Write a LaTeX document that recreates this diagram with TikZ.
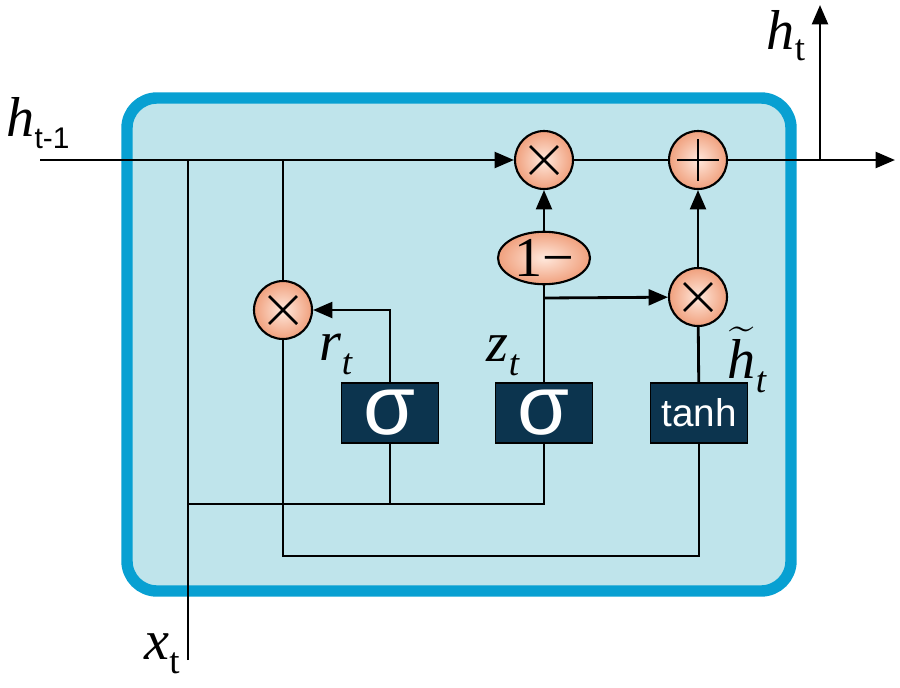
\documentclass[tikz,border=0pt]{standalone}
\usepackage{amsmath}
\usepackage{fontspec}
\setmainfont{Liberation Serif}
\setsansfont{Liberation Sans}
\usetikzlibrary{arrows.meta,shapes.geometric}
\definecolor{cellfill}{RGB}{191,228,235}
\definecolor{cellline}{RGB}{8,160,210}
\definecolor{gatefill}{RGB}{12,52,78}
\definecolor{opouter}{RGB}{240,160,125}
\definecolor{opinner}{RGB}{255,232,220}
\newcommand{\lab}{\fontsize{32}{34}\selectfont}
\newcommand{\sub}{\fontsize{21}{21}\selectfont}

\begin{document}
\begin{tikzpicture}[x=0.02cm,y=-0.02cm,>={Triangle[length=11pt,width=9pt]},line width=1.6pt,
  op/.style={circle,draw,line width=1.2pt,minimum size=1.16cm,inner sep=0pt,inner color=opinner,outer color=opouter},
  mul/.style={op,path picture={\draw[line width=1.6pt]
    ([shift={(-0.28cm,-0.28cm)}]path picture bounding box.center) -- ([shift={(0.28cm,0.28cm)}]path picture bounding box.center)
    ([shift={(-0.28cm,0.28cm)}]path picture bounding box.center) -- ([shift={(0.28cm,-0.28cm)}]path picture bounding box.center);}},
  add/.style={op,path picture={\draw[line width=1.6pt]
    ([xshift=-0.42cm]path picture bounding box.center) -- ([xshift=0.42cm]path picture bounding box.center)
    ([yshift=-0.42cm]path picture bounding box.center) -- ([yshift=0.42cm]path picture bounding box.center);}},
  gate/.style={draw=black,line width=0.8pt,fill=gatefill,text=white,minimum width=1.94cm,minimum height=1.2cm,inner sep=0pt,font=\sffamily}]
  \useasboundingbox (0,0) rectangle (900,687);
  % cell
  \draw[line width=6.5pt,draw=cellline,fill=cellfill,rounded corners=0.6cm] (127,98) rectangle (791,591);
  % labels
  \node (hprev) at (38,123) {\lab\textit{h}\raisebox{-0.2em}{\fontsize{17}{17}\sffamily t-1}};
  \node (hcur) at (786,36) {\lab\textit{h}\raisebox{-0.2em}{\sub t}};
  \node[inner sep=1pt] (xin) at (162,654) {\lab\textit{x}\raisebox{-0.25em}{\sub t}};
  \node (rlab) at (336,354) {\lab\textit{r}\raisebox{-0.25em}{\sub\itshape t}};
  \node (zlab) at (503,356) {\lab\textit{z}\raisebox{-0.25em}{\sub\itshape t}};
  \node[inner sep=0pt] (hlab) at (747,360) {\lab$\widetilde{\mbox{\lab\itshape h}}$\raisebox{-0.25em}{\sub\itshape t}};
  % operations
  \node[mul] (mulT) at (544,160) {};
  \node[add] (sum) at (698,160) {};
  \node[mul] (mulR) at (283,310) {};
  \node[mul] (mulZ) at (698,297) {};
  \node[ellipse,draw,line width=1.2pt,inner color=opinner,outer color=opouter,minimum width=1.84cm,minimum height=1.0cm,inner sep=0pt,font=\lab] (onem) at (544,258) {1−};
  % gates
  \node[gate,font=\fontsize{48}{48}\selectfont\sffamily] (sigR) at (390,413) {σ};
  \node[gate,font=\fontsize{48}{48}\selectfont\sffamily] (sigZ) at (544,413) {σ};
  \node[gate,font=\fontsize{22}{22}\selectfont\sffamily] (cand) at (699,413) {tanh};
  % junctions
  \coordinate (inL) at (40,160);
  \coordinate (outR) at (895,160);
  \coordinate (split) at (820,160);
  \coordinate (htop) at (820,5);
  \coordinate (xj) at (188,160);
  \coordinate (xbot) at (188,660);
  \coordinate (xh) at (188,504);
  \coordinate (hj) at (283,160);
  \coordinate (hb) at (283,556);
  \coordinate (zj) at (544,298);
  % connectors
  \draw[->] (inL) -- (mulT);
  \draw (mulT) -- (sum);
  \draw[->] (sum) -- (outR);
  \draw[->] (split) -- (htop);
  \draw (xbot) -- (xj);
  \draw (xh) -- (xh -| sigZ) -- (sigZ);
  \draw (sigR) -- (sigR |- xh);
  \draw[->] (sigR.north) |- (mulR.east);
  \draw (hj) -- (mulR);
  \draw (mulR) -- (hb) -- (hb -| cand) -- (cand);
  \draw (sigZ) -- (onem);
  \draw[->] (onem) -- (mulT);
  \draw[->] (zj) -- (mulZ);
  \draw (cand) -- (mulZ);
  \draw[->] (mulZ) -- (sum);
\end{tikzpicture}
\end{document}
